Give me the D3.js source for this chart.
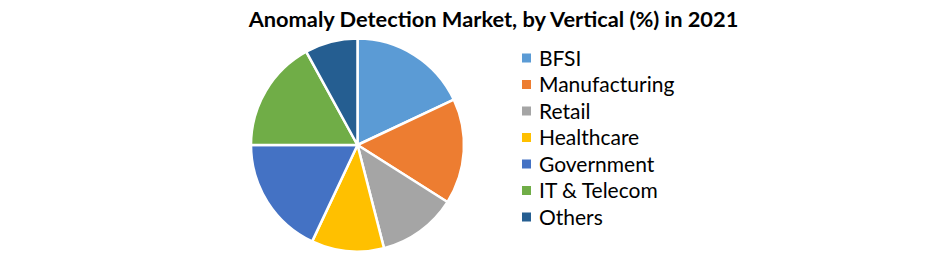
<!DOCTYPE html>
<html>
<head>
<meta charset="utf-8">
<script src="https://cdn.jsdelivr.net/npm/d3@7"></script>
<style>
  body { margin: 0; background: #fff; }
  svg { display: block; }
</style>
</head>
<body>
<svg id="chart"></svg>
<script>
const categories = ["BFSI", "Manufacturing", "Retail", "Healthcare", "Government", "IT & Telecom", "Others"];
const shares = [18, 16, 12, 11, 18, 17, 8];
const colors = ["#5B9BD5", "#ED7D31", "#A5A5A5", "#FFC000", "#4472C4", "#70AD47", "#255E91"];
const title = "Anomaly Detection Market, by Vertical (%) in 2021";

const size = { width: 941, height: 261 };
const pieCenter = { x: 357.5, y: 145 };
const radius = 106.5;

const svg = d3
  .select("#chart")
  .attr("width", size.width)
  .attr("height", size.height);

svg
  .append("text")
  .text(title)
  .attr("x", 493.5)
  .attr("y", 27)
  .attr("text-anchor", "middle")
  .style("font-family", "Lato, 'Open Sans', sans-serif")
  .style("font-weight", "bold")
  .style("font-size", "21.8px")
  .attr("fill", "#000");

const data = categories.map((c, i) => ({ name: c, value: shares[i] }));

const color = d3.scaleOrdinal().domain(categories).range(colors);

const pie = d3
  .pie()
  .sort(null)
  .value((d) => d.value);

const arc = d3.arc().innerRadius(0).outerRadius(radius);

svg
  .append("g")
  .attr("transform", `translate(${pieCenter.x}, ${pieCenter.y})`)
  .selectAll("path")
  .data(pie(data))
  .enter()
  .append("path")
  .attr("d", arc)
  .attr("fill", (d) => color(d.data.name))
  .attr("stroke", "#fff")
  .attr("stroke-width", 2.5)
  .attr("stroke-linejoin", "round");

// legend
const rowY = d3.scalePoint().domain(categories).range([58, 217]);

const legend = svg
  .append("g")
  .selectAll("g")
  .data(categories)
  .enter()
  .append("g")
  .attr("transform", (d) => `translate(522, ${rowY(d)})`);

legend
  .append("rect")
  .attr("x", 0)
  .attr("y", -4.5)
  .attr("width", 9)
  .attr("height", 9)
  .attr("fill", (d) => color(d));

legend
  .append("text")
  .text((d) => d)
  .attr("x", 17)
  .attr("y", 7.5)
  .style("font-family", "Lato, 'Open Sans', sans-serif")
  .style("font-size", "21px")
  .attr("fill", "#000");
</script>
</body>
</html>
